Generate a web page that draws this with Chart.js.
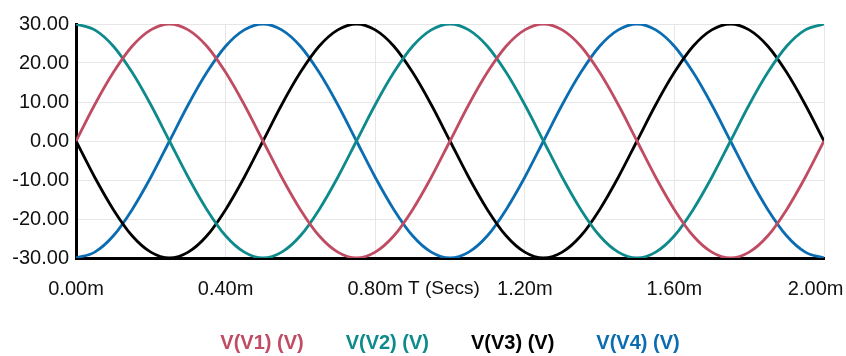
<!DOCTYPE html>
<html>
<head>
<meta charset="utf-8">
<script src="https://cdn.jsdelivr.net/npm/chart.js@4.4.0/dist/chart.umd.min.js"></script>
<style>
    html, body { margin: 0; padding: 0; background: #fff; }
    #wrap { width: 846px; height: 356px; }
</style>
</head>
<body>
<div id="wrap"><canvas id="waveChart" width="846" height="356"></canvas></div>
<script>
// time in ms, sampled every 0.05 ms
const times = [
    0.00, 0.05, 0.10, 0.15, 0.20, 0.25, 0.30, 0.35, 0.40, 0.45,
    0.50, 0.55, 0.60, 0.65, 0.70, 0.75, 0.80, 0.85, 0.90, 0.95,
    1.00, 1.05, 1.10, 1.15, 1.20, 1.25, 1.30, 1.35, 1.40, 1.45,
    1.50, 1.55, 1.60, 1.65, 1.70, 1.75, 1.80, 1.85, 1.90, 1.95,
    2.00
];
const v1 = [
    0, 9.3, 17.6, 24.3, 28.5, 30, 28.5, 24.3, 17.6, 9.3,
    0, -9.3, -17.6, -24.3, -28.5, -30, -28.5, -24.3, -17.6, -9.3,
    0, 9.3, 17.6, 24.3, 28.5, 30, 28.5, 24.3, 17.6, 9.3,
    0, -9.3, -17.6, -24.3, -28.5, -30, -28.5, -24.3, -17.6, -9.3,
    0
];
const v2 = [
    30, 28.5, 24.3, 17.6, 9.3, 0, -9.3, -17.6, -24.3, -28.5,
    -30, -28.5, -24.3, -17.6, -9.3, 0, 9.3, 17.6, 24.3, 28.5,
    30, 28.5, 24.3, 17.6, 9.3, 0, -9.3, -17.6, -24.3, -28.5,
    -30, -28.5, -24.3, -17.6, -9.3, 0, 9.3, 17.6, 24.3, 28.5,
    30
];
const v3 = [
    0, -9.3, -17.6, -24.3, -28.5, -30, -28.5, -24.3, -17.6, -9.3,
    0, 9.3, 17.6, 24.3, 28.5, 30, 28.5, 24.3, 17.6, 9.3,
    0, -9.3, -17.6, -24.3, -28.5, -30, -28.5, -24.3, -17.6, -9.3,
    0, 9.3, 17.6, 24.3, 28.5, 30, 28.5, 24.3, 17.6, 9.3,
    0
];
const v4 = [
    -30, -28.5, -24.3, -17.6, -9.3, 0, 9.3, 17.6, 24.3, 28.5,
    30, 28.5, 24.3, 17.6, 9.3, 0, -9.3, -17.6, -24.3, -28.5,
    -30, -28.5, -24.3, -17.6, -9.3, 0, 9.3, 17.6, 24.3, 28.5,
    30, 28.5, 24.3, 17.6, 9.3, 0, -9.3, -17.6, -24.3, -28.5,
    -30
];
const seriesNames = ['V(V1) (V)', 'V(V2) (V)', 'V(V3) (V)', 'V(V4) (V)'];
const seriesColors = ['#c04c63', '#0e8a8c', '#000000', '#0a6db2'];
const axisTitle = 'T (Secs)';

const FONT = '"Liberation Sans", Arial, sans-serif';

function points(values) {
    return times.map((t, i) => ({ x: t, y: values[i] }));
}

// axis title sits on the tick row, legend is plain coloured text
const textPlugin = {
    id: 'textPlugin',
    afterDraw(chart) {
        const ctx = chart.ctx;
        const area = chart.chartArea;
        const mid = (area.left + area.right) / 2;
        ctx.save();
        ctx.textBaseline = 'middle';
        ctx.textAlign = 'center';
        ctx.font = '19px ' + FONT;
        ctx.fillStyle = '#111';
        ctx.fillText(axisTitle, mid - 6, area.bottom + 31);

        ctx.font = 'bold 20px ' + FONT;
        ctx.textAlign = 'left';
        const gap = 42;
        const widths = seriesNames.map(n => ctx.measureText(n).width);
        const total = widths.reduce((a, b) => a + b, 0) + gap * (widths.length - 1);
        let x = mid - total / 2;
        seriesNames.forEach((n, i) => {
            ctx.fillStyle = seriesColors[i];
            ctx.fillText(n, x, area.bottom + 85);
            x += widths[i] + gap;
        });
        ctx.restore();
    }
};

const ctx = document.getElementById('waveChart').getContext('2d');
new Chart(ctx, {
    type: 'line',
    data: {
        datasets: [v1, v2, v3, v4].map((vals, i) => ({
            label: seriesNames[i],
            data: points(vals),
            borderColor: seriesColors[i],
            borderWidth: 2.8,
            pointRadius: 0,
            fill: false,
            cubicInterpolationMode: 'monotone'
        }))
    },
    options: {
        responsive: false,
        animation: false,
        devicePixelRatio: 1,
        layout: { padding: { top: 24, right: 22, bottom: 0, left: 0 } },
        plugins: {
            legend: { display: false },
            tooltip: { enabled: false }
        },
        scales: {
            x: {
                type: 'linear',
                min: 0,
                max: 2,
                border: { color: '#000', width: 3 },
                grid: { color: '#e6e6e6', drawTicks: false },
                ticks: {
                    stepSize: 0.4,
                    padding: 19,
                    color: '#111',
                    font: { family: FONT, size: 20 },
                    maxRotation: 0,
                    callback: (v, i, ticks) => v.toFixed(2) + 'm' + (i === ticks.length - 1 ? '   ' : '')
                },
                afterFit(scale) {
                    scale.height = 98;
                    scale.paddingLeft = 0;
                    scale.paddingRight = 0;
                }
            },
            y: {
                min: -30,
                max: 30,
                border: { color: '#000', width: 3 },
                grid: { color: '#e6e6e6', drawTicks: false },
                ticks: {
                    stepSize: 10,
                    padding: 7,
                    color: '#111',
                    font: { family: FONT, size: 20 },
                    callback: v => v.toFixed(2)
                },
                afterFit(scale) {
                    scale.width = 76;
                    scale.paddingTop = 0;
                    scale.paddingBottom = 0;
                }
            }
        }
    },
    plugins: [textPlugin]
});
</script>
</body>
</html>
